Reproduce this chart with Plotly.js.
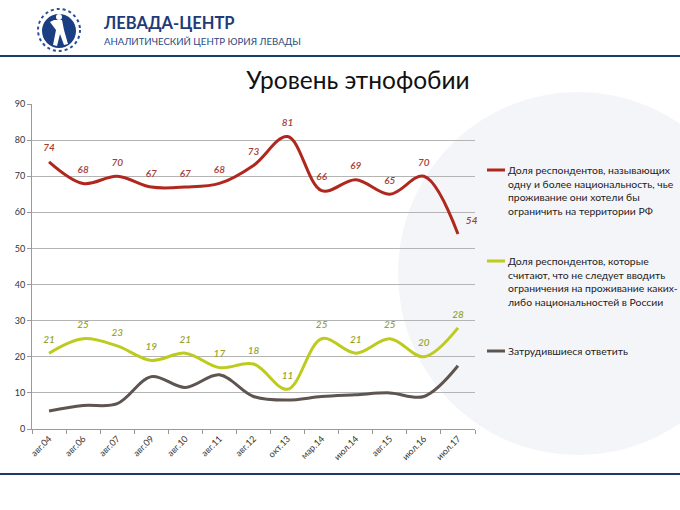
<!DOCTYPE html>
<html>
<head>
<meta charset="utf-8">
<script src="https://cdn.plot.ly/plotly-3.0.1.min.js"></script>
<style>
html,body{margin:0;padding:0;background:#fff;}
#chart{width:680px;height:510px;}
</style>
</head>
<body>
<div id="chart"></div>
<script>
// ---- data ----
const categories = ["авг.04","авг.06","авг.07","авг.09","авг.10","авг.11","авг.12","окт.13","мар.14","июл.14","авг.15","июл.16","июл.17"];
const restrictValues = [74, 68, 70, 67, 67, 68, 73, 81, 66, 69, 65, 70, 54];
const noRestrictValues = [21, 25, 23, 19, 21, 17, 18, 11, 25, 21, 25, 20, 28];
const hardToSayValues = [5, 6.5, 7, 14.5, 11.5, 15, 9, 8, 9, 9.5, 10, 9, 17.5];
const seriesNames = [
  "Доля респондентов, называющих<br>одну и более национальность, чье<br>проживание они хотели бы<br>ограничить на территории РФ",
  "Доля респондентов, которые<br>считают, что не следует вводить<br>ограничения на проживание каких-<br>либо национальностей в России",
  "Затрудившиеся ответить"
];
const seriesColors = ["#b0281d", "#bccb1c", "#5e5450"];
const yTicks = [0,10,20,30,40,50,60,70,80,90];

// ---- geometry helpers (pixel -> paper) ----
const PL = 32, PR = 475, PT = 104, PB = 429;
const W = 680, H = 510;
const px = x => (x - PL) / (PR - PL);
const py = y => (PB - y) / (PB - PT);

const FONT = "Lato, Open Sans, sans-serif";

const redPos = restrictValues.map((v,i)=> i===restrictValues.length-1 ? "top right" : "top center");
const yelPos = noRestrictValues.map(()=> "top center");
const hiddenMarker = {size: 11, color: "rgba(0,0,0,0)", line: {width: 0}};

const traces = [
  {
    x: categories, y: restrictValues, name: seriesNames[0],
    type: "scatter", mode: "lines",
    line: {color: seriesColors[0], width: 3, shape: "spline", smoothing: 1}
  },
  {
    x: categories, y: noRestrictValues, name: seriesNames[1],
    type: "scatter", mode: "lines",
    line: {color: seriesColors[1], width: 3, shape: "spline", smoothing: 1}
  },
  {
    x: categories, y: hardToSayValues, name: seriesNames[2],
    type: "scatter", mode: "lines",
    line: {color: seriesColors[2], width: 3, shape: "spline", smoothing: 1}
  },
  // data labels
  {
    x: categories, y: restrictValues, type: "scatter", mode: "markers+text",
    marker: hiddenMarker,
    text: restrictValues.map(String), textposition: redPos,
    textfont: {family: FONT, size: 10, color: "#a63c35", style: "italic", weight: 600},
    cliponaxis: false
  },
  {
    x: categories, y: noRestrictValues, type: "scatter", mode: "markers+text",
    marker: hiddenMarker,
    text: noRestrictValues.map(String), textposition: yelPos,
    textfont: {family: FONT, size: 10, color: "#98a52a", style: "italic", weight: 600},
    cliponaxis: false
  }
];

const shapes = [
  // watermark circle
  {type:"circle", xref:"paper", yref:"paper", layer:"below",
   x0:px(398), x1:px(758), y0:py(455), y1:py(92),
   fillcolor:"#f4f5f8", line:{width:0}},
  // header line
  {type:"line", xref:"paper", yref:"paper", x0:px(0), x1:px(680), y0:py(56), y1:py(56),
   line:{color:"#1e3a68", width:2}},
  // footer line
  {type:"line", xref:"paper", yref:"paper", x0:px(0), x1:px(680), y0:py(474), y1:py(474),
   line:{color:"#1e3a68", width:2}},
  // logo ring (dotted)
  {type:"circle", xref:"paper", yref:"paper",
   x0:px(38), x1:px(80), y0:py(51), y1:py(9),
   line:{color:"#2a4f96", width:2, dash:"dot"}},
  // logo disk
  {type:"circle", xref:"paper", yref:"paper",
   x0:px(42), x1:px(76), y0:py(48), y1:py(14),
   fillcolor:"#1b3d82", line:{width:0}},
  // logo figure (white)
  {type:"path", xref:"paper", yref:"paper",
   path:`M ${px(54)} ${py(20)} L ${px(62)} ${py(20)} L ${px(64)} ${py(30)} L ${px(68)} ${py(44)} L ${px(64)} ${py(45)} L ${px(60)} ${py(34)} L ${px(57)} ${py(46)} L ${px(53)} ${py(45)} L ${px(56)} ${py(30)} L ${px(50)} ${py(22)} Z`,
   fillcolor:"#ffffff", line:{width:0}},
  {type:"circle", xref:"paper", yref:"paper",
   x0:px(56), x1:px(62), y0:py(20), y1:py(14),
   fillcolor:"#ffffff", line:{width:0}}
];

const annotations = [
  {text:"<b>ЛЕВАДА-ЦЕНТР</b>", xref:"paper", yref:"paper", x:px(101), y:py(23),
   xanchor:"left", yanchor:"middle", showarrow:false,
   font:{family:FONT, size:16.5, color:"#1f3b78"}},
  {text:"АНАЛИТИЧЕСКИЙ ЦЕНТР ЮРИЯ ЛЕВАДЫ", xref:"paper", yref:"paper", x:px(102), y:py(41),
   xanchor:"left", yanchor:"middle", showarrow:false,
   font:{family:FONT, size:9.6, color:"#2b4a82"}}
];

// manual legend (keys + text)
const legendTops = [170, 261, 351];
seriesNames.forEach((name, i) => {
  shapes.push({type:"line", xref:"paper", yref:"paper",
    x0:px(487), x1:px(505), y0:py(legendTops[i]), y1:py(legendTops[i]),
    line:{color:seriesColors[i], width:3}});
  annotations.push({text:name, xref:"paper", yref:"paper",
    x:px(506), y:py(legendTops[i] - 8), xanchor:"left", yanchor:"top",
    align:"left", showarrow:false,
    font:{family:FONT, size:10.4, color:"#222"}});
});

const layout = {
  width: W, height: H,
  margin: {l: PL, r: W - PR, t: PT, b: H - PB, pad: 0},
  paper_bgcolor: "#ffffff", plot_bgcolor: "rgba(0,0,0,0)",
  font: {family: FONT, color: "#333"},
  title: {text: "Уровень этнофобии", font: {family: FONT, size: 24.5, color: "#111"},
          x: 358 / W, xanchor: "center", y: 1 - 80 / H, yanchor: "middle"},
  showlegend: false,
  xaxis: {
    type: "category", categoryorder: "array", categoryarray: categories,
    range: [-0.5, categories.length - 0.5],
    tickangle: -45, tickfont: {family: FONT, size: 9, color: "#333"},
    ticks: "outside", ticklen: 4, tickcolor: "#999", tickson: "boundaries",
    showline: true, linecolor: "#9a9a9a", linewidth: 1,
    showgrid: false, zeroline: false, fixedrange: true
  },
  yaxis: {
    range: [0, 90], tickvals: yTicks, ticktext: yTicks.map(String),
    tickfont: {family: FONT, size: 9, color: "#333"},
    ticks: "outside", ticklen: 4, tickcolor: "#999",
    showline: true, linecolor: "#9a9a9a", linewidth: 1,
    showgrid: true, gridcolor: "#b4b4b4", gridwidth: 1,
    zeroline: false, fixedrange: true
  },
  shapes: shapes,
  annotations: annotations
};

Plotly.newPlot("chart", traces, layout, {displayModeBar: false, staticPlot: true});
</script>
</body>
</html>
